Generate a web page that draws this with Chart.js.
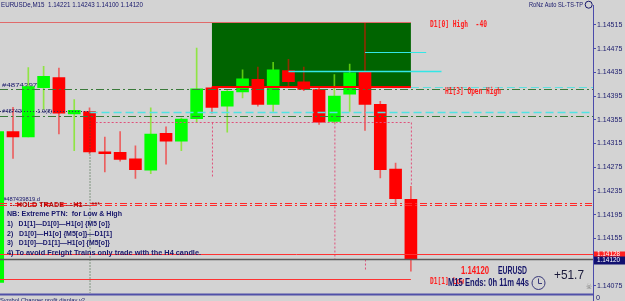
<!DOCTYPE html>
<html>
<head>
<meta charset="utf-8">
<script src="https://cdn.jsdelivr.net/npm/chart.js@4.4.1/dist/chart.umd.min.js"></script>
<style>
html, body { margin: 0; padding: 0; background: #d3d3d3; overflow: hidden; }
</style>
</head>
<body>
<canvas id="chart" width="625" height="301"></canvas>
<script>
const opens  = [1.14081, 1.14335, 1.14326, 1.14409, 1.14426, 1.14365, 1.14369, 1.14301, 1.14300, 1.14289, 1.14270, 1.14332, 1.14319, 1.14357, 1.14409, 1.14378, 1.14402, 1.14423, 1.14381, 1.14438, 1.14419, 1.14406, 1.14352, 1.14398, 1.14435, 1.14381, 1.14272, 1.14221];
const highs  = [1.14337, 1.14376, 1.14443, 1.14445, 1.14442, 1.14389, 1.14375, 1.14326, 1.14335, 1.14311, 1.14375, 1.14343, 1.14358, 1.14476, 1.14410, 1.14405, 1.14439, 1.14444, 1.14452, 1.14457, 1.14444, 1.14408, 1.14431, 1.14449, 1.14518, 1.14386, 1.14282, 1.14243];
const lows   = [1.14079, 1.14290, 1.14326, 1.14373, 1.14331, 1.14303, 1.14298, 1.14267, 1.14285, 1.14256, 1.14264, 1.14280, 1.14303, 1.14351, 1.14366, 1.14334, 1.14392, 1.14378, 1.14369, 1.14411, 1.14404, 1.14347, 1.14350, 1.14369, 1.14337, 1.14257, 1.14210, 1.14100];
const closes = [1.14335, 1.14326, 1.14411, 1.14428, 1.14366, 1.14371, 1.14301, 1.14298, 1.14288, 1.14271, 1.14331, 1.14319, 1.14356, 1.14407, 1.14376, 1.14403, 1.14424, 1.14381, 1.14439, 1.14419, 1.14406, 1.14351, 1.14395, 1.14434, 1.14381, 1.14271, 1.14222, 1.14120];

// Graduations de l'axe des prix
const priceTicks = [1.14515, 1.14475, 1.14435, 1.14395, 1.14355, 1.14315, 1.14275, 1.14235, 1.14195, 1.14155, 1.14075];

// Niveaux des indicateurs / objets
const d1High = 1.14519;
const boxLow = 1.14410;
const cyanHigh = 1.14470;
const cyanMid = 1.14438;
const greenLevel1 = 1.14407;
const cyanLevel = 1.14368;
const greenLevel2 = 1.14362;
const pinkLevel = 1.14351;
const pinkBottom = 1.14258;
const holdLevels = [1.14215, 1.14211];
const redLevel = 1.14128;
const bidPrice = 1.14120;
const d1Low = 1.14087;
const profit = '+51.7';

const NAVY = '#16166a';

const bodies = opens.map((o, i) => ({x: i, y: [o, closes[i]]}));
const wicks = opens.map((o, i) => ({x: i, y: [lows[i], highs[i]]}));
const bodyColors = opens.map((o, i) => closes[i] >= o ? '#00ff00' : '#ff0000');
const wickColors = opens.map((o, i) => closes[i] >= o ? 'rgba(120,235,20,0.75)' : 'rgba(255,0,0,0.55)');

function fitText(ctx, text, x, y, w, font, color) {
    ctx.save();
    ctx.font = font;
    ctx.fillStyle = color;
    ctx.textBaseline = 'middle';
    ctx.textAlign = 'left';
    const m = ctx.measureText(text).width;
    ctx.translate(x, y);
    ctx.scale(w / m, 1);
    ctx.fillText(text, 0, 0);
    ctx.restore();
}

function line(ctx, x1, y1, x2, y2, color, width, dash) {
    ctx.save();
    ctx.strokeStyle = color;
    ctx.lineWidth = width;
    ctx.setLineDash(dash || []);
    ctx.beginPath();
    ctx.moveTo(x1, y1);
    ctx.lineTo(x2, y2);
    ctx.stroke();
    ctx.restore();
}

const overlay = {
    id: 'overlay',
    beforeDraw(chart) {
        const ctx = chart.ctx;
        ctx.save();
        ctx.fillStyle = '#d3d3d3';
        ctx.fillRect(0, 0, chart.width, chart.height);
        ctx.restore();
    },
    beforeDatasetsDraw(chart) {
        const {ctx, scales: {x, y}} = chart;
        const px = v => x.getPixelForValue(v);
        const py = v => Math.round(y.getPixelForValue(v)) + 0.5;
        // rectangle vert (range D1)
        ctx.save();
        ctx.fillStyle = '#006400';
        ctx.fillRect(px(14), py(d1High), px(27) - px(14), py(boxLow) - py(d1High));
        ctx.restore();
        // etiquettes des ordres (derriere les bougies)
        fitText(ctx, '#487439733', 2, py(greenLevel1) - 4, 44, '6px "Liberation Sans"', NAVY);
        fitText(ctx, '#487439731  1.9(8) sl', 2, py(cyanLevel) - 1, 56, '6px "Liberation Sans"', NAVY);
        fitText(ctx, '#487439819.d', 3, py(holdLevels[0]) - 4, 37, '6px "Liberation Sans"', NAVY);
    },
    afterDatasetsDraw(chart) {
        const {ctx, chartArea: a, scales: {x, y}} = chart;
        const px = v => x.getPixelForValue(v);
        const py = v => Math.round(y.getPixelForValue(v)) + 0.5;
        const R = a.right;

        line(ctx, 0, py(d1High), px(27), py(d1High), '#e06a6a', 1);
        line(ctx, px(14), py(boxLow) - 0.5, px(27), py(boxLow) - 0.5, '#ff0000', 2);
        line(ctx, px(19), py(cyanMid), px(29), py(cyanMid), '#33e6e6', 1.5);
        line(ctx, px(24), py(cyanHigh), px(28), py(cyanHigh), '#33e6e6', 1);
        line(ctx, px(27), py(boxLow), R, py(boxLow), '#5ee0e0', 1, [8, 4]);
        line(ctx, 0, py(greenLevel1), R, py(greenLevel1), '#3a7a3a', 1, [8, 3, 2, 3]);
        line(ctx, 0, py(greenLevel2), R, py(greenLevel2), '#3a7a3a', 1, [8, 3, 2, 3]);
        line(ctx, 0, py(cyanLevel) - 1, px(6), py(cyanLevel) - 1, '#303060', 1, [1, 2]);
        line(ctx, px(6), py(cyanLevel), R, py(cyanLevel), '#4fe3e3', 1.5, [8, 4]);

        // pointilles roses
        const pink = '#e0507a';
        line(ctx, px(6.4), py(pinkLevel), px(27), py(pinkLevel), pink, 1, [2, 2]);
        line(ctx, px(14) + 0.5, py(pinkLevel), px(14) + 0.5, py(pinkBottom), pink, 1, [2, 2]);
        line(ctx, px(22) + 0.5, py(pinkLevel), px(22) + 0.5, py(bidPrice), pink, 1, [2, 2]);
        line(ctx, px(22), py(bidPrice), px(27) - 6, py(bidPrice), pink, 1, [2, 2]);
        line(ctx, px(27) + 0.5, py(pinkLevel), px(27) + 0.5, py(highs[27]), pink, 1, [2, 2]);
        line(ctx, px(24) + 0.5, py(bidPrice), px(24) + 0.5, py(lows[27]), pink, 1, [2, 2]);
        line(ctx, px(6) + 0.5, py(cyanLevel), px(6) + 0.5, a.bottom, '#2f5a2f', 1, [1, 2]);

        line(ctx, 0, py(holdLevels[0]), R, py(holdLevels[0]), '#ff2a2a', 1.2, [7, 3, 2, 3]);
        line(ctx, 0, py(holdLevels[1]), R, py(holdLevels[1]), '#ff2a2a', 1.2, [7, 3, 2, 3]);
        line(ctx, 0, py(redLevel), R, py(redLevel), '#ff3333', 1);
        line(ctx, 0, py(bidPrice), R, py(bidPrice), '#5a5a5a', 1.5);
        line(ctx, 0, py(d1Low), px(27), py(d1Low), '#ff3333', 1);

        // libelles rouges
        const mono = 'bold 8px "DejaVu Sans Mono"';
        fitText(ctx, 'D1[0] High  -40', 430, py(d1High) + 2, 57, mono, '#ff2020');
        fitText(ctx, 'H1[3] Open High', 445, py(greenLevel1) + 2, 56, mono, '#ff2020');
        fitText(ctx, 'D1[1] Low', 430, py(d1Low) + 2, 34, mono, '#ff2020');
        fitText(ctx, '-- HOLD TRADE \u2014H1\u2014 ***', 10, py(holdLevels[0]) + 1, 90, 'bold 8px "Liberation Sans"', '#b01010');

        // bloc de texte
        const f = 'bold 8px "Liberation Sans"';
        fitText(ctx, 'NB: Extreme PTN:  for Low & High', 7, 214, 115, f, NAVY);
        fitText(ctx, '1)   D1[1]\u2014D1[0]\u2014H1[o] {M5 [o]}', 7, 224, 103, f, NAVY);
        fitText(ctx, '2)   D1[0]\u2014H1[o] {M5[o]}\u2014D1[1]', 7, 233.5, 105, f, NAVY);
        fitText(ctx, '3)   D1[0]\u2014D1[1]\u2014H1[o] {M5[o]}', 7, 243, 103, f, NAVY);
        fitText(ctx, '4) To avoid Freight Trains only trade with the H4 candle.', 7, 252.5, 194, f, NAVY);

        // infos prix / timer
        fitText(ctx, '1.14120', 461, 271, 28, 'bold 11px "Liberation Sans"', '#ff1a1a');
        fitText(ctx, 'EURUSD', 498, 271, 29, 'bold 11px "Liberation Sans"', NAVY);
        fitText(ctx, 'M15 Ends: 0h 11m 44s', 448, 283, 81, 'bold 11px "Liberation Sans"', NAVY);
        fitText(ctx, profit, 554, 275, 30, '13px "Liberation Sans"', '#1a1a3a');

        // horloge
        ctx.save();
        ctx.strokeStyle = '#3a3a7a';
        ctx.lineWidth = 1;
        ctx.beginPath();
        ctx.arc(538.5, 283, 6.5, 0, Math.PI * 2);
        ctx.stroke();
        ctx.beginPath();
        ctx.moveTo(538.5, 278.5);
        ctx.lineTo(538.5, 283.5);
        ctx.lineTo(542, 283.5);
        ctx.stroke();
        ctx.restore();
        fitText(ctx, '\u2620', 586, 287, 6, '8px "DejaVu Sans"', '#808080');
    },
    afterDraw(chart) {
        const {ctx, chartArea: a, scales: {y}} = chart;
        const py = v => Math.round(y.getPixelForValue(v)) + 0.5;
        // titre
        fitText(ctx, 'EURUSDe,M15  1.14221 1.14243 1.14100 1.14120', 1, 5, 142, '7px "Liberation Sans"', NAVY);
        fitText(ctx, 'RoNz Auto SL-TS-TP', 529, 5, 54, '7px "Liberation Sans"', NAVY);
        ctx.save();
        ctx.strokeStyle = NAVY;
        ctx.beginPath();
        ctx.arc(588.7, 4.7, 3.5, 0, Math.PI * 2);
        ctx.stroke();
        ctx.restore();

        // etiquettes de prix a droite
        ctx.save();
        ctx.fillStyle = '#ff2020';
        ctx.fillRect(a.right + 1, py(redLevel) - 3, 32, 7);
        fitText(ctx, '1.14128', a.right + 4, py(redLevel), 23, '7px "Liberation Sans"', '#ffffff');
        ctx.fillStyle = '#101070';
        ctx.fillRect(a.right + 1, py(bidPrice) - 3, 32, 8);
        ctx.restore();
        fitText(ctx, '1.14120', a.right + 4, py(bidPrice) + 1, 23, '7px "Liberation Sans"', '#ffffff');

        // bas du graphique
        line(ctx, 0, a.bottom + 1.5, a.right, a.bottom + 1.5, '#5050a8', 2);
        line(ctx, a.right + 0.5, a.bottom, a.right + 0.5, chart.height, '#4b4bab', 1);
        fitText(ctx, 'Symbol Changer profit display v2', 0, 300, 85, '6px "Liberation Sans"', NAVY);
        fitText(ctx, '0', a.right + 3, 298, 4, '7px "Liberation Sans"', NAVY);
    }
};

const ctx = document.getElementById('chart').getContext('2d');
new Chart(ctx, {
    type: 'bar',
    data: {
        datasets: [{
            data: wicks,
            backgroundColor: wickColors,
            barThickness: 1,
            grouped: false,
            order: 2
        }, {
            data: bodies,
            backgroundColor: bodyColors,
            barThickness: 12,
            grouped: false,
            order: 1
        }]
    },
    options: {
        responsive: false,
        animation: false,
        devicePixelRatio: 1,
        layout: {padding: {left: 0, top: 0, right: 0, bottom: 8}},
        plugins: {
            legend: {display: false},
            tooltip: {enabled: false}
        },
        scales: {
            x: {
                type: 'linear',
                display: false,
                offset: false,
                min: 0.15,
                max: 38.9
            },
            y: {
                position: 'right',
                min: 1.14063,
                max: 1.145481,
                afterBuildTicks: scale => {
                    scale.ticks = priceTicks.map(v => ({value: v}));
                },
                afterFit: scale => {
                    scale.width = 32;
                },
                ticks: {
                    autoSkip: false,
                    padding: 1,
                    color: '#202070',
                    font: {family: 'Liberation Sans', size: 7},
                    callback: v => v.toFixed(5)
                },
                grid: {drawOnChartArea: false, tickLength: 3, color: '#4b4bab'},
                border: {color: '#4b4bab', width: 1}
            }
        }
    },
    plugins: [overlay]
});
</script>
</body>
</html>
